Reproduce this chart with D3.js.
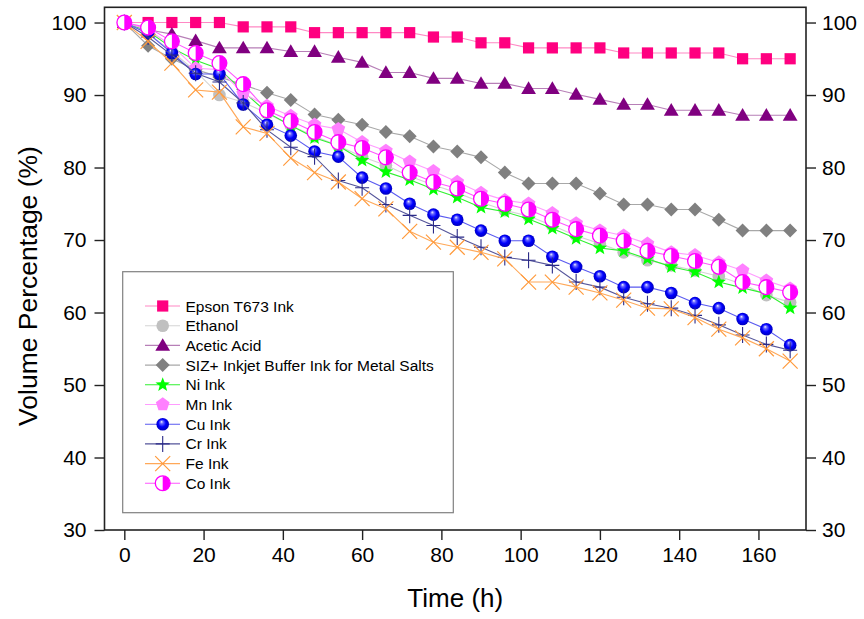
<!DOCTYPE html>
<html>
<head>
<meta charset="utf-8">
<script src="https://cdn.jsdelivr.net/npm/d3@7"></script>
<style>
  body { margin: 0; background: #fff; }
  svg { display: block; font-family: Arial, "Liberation Sans", sans-serif; }
</style>
</head>
<body>
<svg id="chart" width="864" height="619"></svg>
<script>
// Sampling times (h)
const hours = [0, 6, 12, 18, 24, 30, 36, 42, 48, 54, 60, 66, 72, 78, 84, 90, 96,
               102, 108, 114, 120, 126, 132, 138, 144, 150, 156, 162, 168];

// Volume remaining (%) for each liquid
const epson   = [100, 100, 100, 100, 100, 99.4, 99.4, 99.4, 98.6, 98.6, 98.6, 98.6, 98.6, 98.0, 98.0,
                 97.2, 97.2, 96.5, 96.5, 96.5, 96.5, 95.8, 95.8, 95.8, 95.8, 95.8, 95.0, 95.0, 95.0];
const ethanol = [100, 98.5, 96.0, 93.3, 90.0, 89.0, 87.5, 85.8, 84.3, 83.0, 81.5, 80.3, 78.8, 77.6, 76.5,
                 75.2, 74.1, 73.3, 72.0, 70.6, 69.5, 68.3, 67.2, 66.5, 65.8, 65.0, 63.9, 62.4, 61.4];
const acetic  = [100, 99.0, 98.4, 97.5, 96.5, 96.5, 96.5, 96.0, 96.0, 95.2, 94.5, 93.1, 93.1, 92.3, 92.3,
                 91.6, 91.6, 90.9, 90.9, 90.1, 89.4, 88.7, 88.7, 87.9, 87.9, 87.9, 87.2, 87.2, 87.2];
const sizBuffer = [100, 96.8, 95.0, 93.5, 92.5, 91.4, 90.3, 89.3, 87.3, 86.6, 85.9, 84.9, 84.3, 82.9, 82.2,
                 81.4, 79.3, 77.8, 77.8, 77.8, 76.4, 74.9, 74.9, 74.2, 74.2, 72.8, 71.3, 71.3, 71.3];
const niInk   = [100, 98.8, 96.5, 94.8, 93.6, 90.5, 87.6, 85.8, 84.1, 83.0, 81.0, 79.4, 78.3, 77.0, 75.9,
                 74.5, 73.9, 72.9, 71.6, 70.2, 68.9, 68.5, 67.4, 66.3, 65.6, 64.2, 63.4, 62.6, 60.6];
const mnInk   = [100, 99.0, 96.8, 93.7, 93.5, 90.2, 88.5, 87.1, 85.9, 85.3, 83.5, 82.3, 80.8, 79.5, 78.0,
                 76.5, 75.5, 75.0, 73.7, 72.3, 71.3, 70.6, 69.5, 68.3, 67.9, 66.9, 65.8, 64.4, 63.3];
const cuInk   = [100, 98.5, 95.8, 92.9, 92.9, 88.7, 85.9, 84.4, 82.2, 81.5, 78.6, 77.1, 75.0, 73.5, 72.8,
                 71.3, 69.9, 69.9, 67.7, 66.3, 65.0, 63.5, 63.5, 62.7, 61.3, 60.6, 59.1, 57.7, 55.5];
const crInk   = [100, 98.0, 95.5, 93.0, 91.8, 88.9, 85.2, 82.8, 81.5, 78.2, 77.2, 74.9, 73.4, 72.0, 70.4,
                 69.0, 67.6, 67.2, 66.5, 64.2, 63.5, 62.1, 61.2, 60.6, 59.6, 58.3, 56.9, 55.6, 54.8];
const feInk   = [100, 97.4, 94.4, 90.7, 90.4, 85.6, 84.7, 81.3, 79.3, 78.0, 75.7, 74.3, 71.2, 69.7, 69.0,
                 68.3, 67.4, 64.2, 64.2, 63.5, 62.7, 61.7, 60.6, 60.5, 59.3, 57.7, 56.5, 55.0, 53.3];
const coInk   = [100, 99.3, 97.4, 95.8, 94.4, 91.5, 87.9, 86.4, 84.9, 83.5, 82.7, 81.4, 79.3, 78.0, 77.1,
                 75.7, 75.0, 74.2, 72.8, 71.5, 70.6, 69.9, 68.5, 67.8, 67.1, 66.3, 64.2, 63.5, 62.8];

const seriesNames = ["Epson T673 Ink", "Ethanol", "Acetic Acid", "SIZ+ Inkjet Buffer Ink for Metal Salts",
                     "Ni Ink", "Mn Ink", "Cu Ink", "Cr Ink", "Fe Ink", "Co Ink"];
const seriesValues = [epson, ethanol, acetic, sizBuffer, niInk, mnInk, cuInk, crInk, feInk, coInk];

const xTicks = [0, 20, 40, 60, 80, 100, 120, 140, 160];
const yTicks = [30, 40, 50, 60, 70, 80, 90, 100];

// Plot styling per series: marker shape, marker colour, connecting-line colour
const styles = [
  { shape: "square",   fill: "#FF0080", line: "#FF88C4" },
  { shape: "circle",   fill: "#C0C0C0", line: "#D4D4D4" },
  { shape: "triangle", fill: "#800080", line: "#B77FB7" },
  { shape: "diamond",  fill: "#808080", line: "#A8A8A8" },
  { shape: "star",     fill: "#00FF00", line: "#30F030" },
  { shape: "pentagon", fill: "#FF80FF", line: "#FF9CFF" },
  { shape: "sphere",   fill: "#0000FF", line: "#5A5AF0" },
  { shape: "plus",     fill: "#2A2A88", line: "#55559A" },
  { shape: "times",    fill: "#FF9A3C", line: "#FFA858" },
  { shape: "half",     fill: "#FF00FF", line: "#FF55FF" }
];

const plot = { left: 104.5, right: 806, top: 7.3, bottom: 530 };

const svg = d3.select("#chart");
const defs = svg.append("defs");
const grad = defs.append("radialGradient").attr("id", "cuShade")
  .attr("cx", "50%").attr("cy", "50%").attr("r", "55%").attr("fx", "40%").attr("fy", "30%");
grad.append("stop").attr("offset", "0%").attr("stop-color", "#F4F4FF");
grad.append("stop").attr("offset", "22%").attr("stop-color", "#6A6AFF");
grad.append("stop").attr("offset", "55%").attr("stop-color", "#0000FF");
grad.append("stop").attr("offset", "100%").attr("stop-color", "#0000B0");

const x = d3.scaleLinear().domain([-5, 172]).range([plot.left, plot.right]);
const y = d3.scaleLinear().domain([30, 102.1]).range([plot.bottom, plot.top]);

// Marker drawing helpers
function starPath(r) {
  const pts = [];
  for (let i = 0; i < 10; i++) {
    const a = -Math.PI / 2 + i * Math.PI / 5;
    const rr = i % 2 === 0 ? r : r * 0.42;
    pts.push([rr * Math.cos(a), rr * Math.sin(a)]);
  }
  return "M" + pts.map(p => p.join(",")).join("L") + "Z";
}
function polyPath(n, r) {
  const pts = [];
  for (let i = 0; i < n; i++) {
    const a = -Math.PI / 2 + i * 2 * Math.PI / n;
    pts.push([r * Math.cos(a), r * Math.sin(a)]);
  }
  return "M" + pts.map(p => p.join(",")).join("L") + "Z";
}

function drawMarker(g, st) {
  switch (st.shape) {
    case "square":
      g.append("rect").attr("x", -5.6).attr("y", -5.6).attr("width", 11.2).attr("height", 11.2)
        .attr("fill", st.fill);
      break;
    case "circle":
      g.append("circle").attr("r", 6.3).attr("fill", st.fill);
      break;
    case "triangle":
      g.append("path").attr("d", "M0,-7.2L7.4,5.4L-7.4,5.4Z").attr("fill", st.fill);
      break;
    case "diamond":
      g.append("path").attr("d", "M0,-7L7,0L0,7L-7,0Z").attr("fill", st.fill);
      break;
    case "star":
      g.append("path").attr("d", starPath(7.6)).attr("fill", st.fill);
      break;
    case "pentagon":
      g.append("path").attr("d", polyPath(5, 7.2)).attr("fill", st.fill);
      break;
    case "sphere":
      g.append("circle").attr("r", 6.3).attr("fill", "url(#cuShade)");
      break;
    case "plus":
      g.append("path").attr("d", "M-7,0H7M0,-8V8").attr("stroke", st.fill)
        .attr("stroke-width", 1.1).attr("fill", "none");
      break;
    case "times":
      g.append("path").attr("d", "M-7.5,-7.5L7.5,7.5M-7.5,7.5L7.5,-7.5").attr("stroke", st.fill)
        .attr("stroke-width", 1.2).attr("fill", "none");
      break;
    case "half":
      g.append("circle").attr("r", 7.4).attr("fill", "#fff");
      g.append("path").attr("d", "M0,-7.4A7.4,7.4 0 0 1 0,7.4Z").attr("fill", st.fill);
      g.append("circle").attr("r", 7.4).attr("fill", "none").attr("stroke", st.fill).attr("stroke-width", 1.3);
      break;
  }
}

// Frame and axes
const axisColor = "#222";
svg.append("rect").attr("x", plot.left).attr("y", plot.top)
  .attr("width", plot.right - plot.left).attr("height", plot.bottom - plot.top)
  .attr("fill", "none").attr("stroke", axisColor).attr("stroke-width", 1.6);

const tickFont = 21;
const xAxis = svg.append("g").attr("transform", `translate(0,${plot.bottom})`)
  .call(d3.axisBottom(x).tickValues(xTicks).tickSize(10).tickPadding(7).tickFormat(d3.format("d")));
const yAxisL = svg.append("g").attr("transform", `translate(${plot.left},0)`)
  .call(d3.axisLeft(y).tickValues(yTicks).tickSize(10).tickPadding(8).tickFormat(d3.format("d")));
const yAxisR = svg.append("g").attr("transform", `translate(${plot.right},0)`)
  .call(d3.axisRight(y).tickValues(yTicks).tickSize(10).tickPadding(6).tickFormat(d3.format("d")));
[xAxis, yAxisL, yAxisR].forEach(a => {
  a.select(".domain").remove();
  a.selectAll("line").attr("stroke", axisColor).attr("stroke-width", 1.4);
  a.selectAll("text").attr("fill", "#000").style("font-size", tickFont + "px")
    .style("font-family", "Arial, 'Liberation Sans', sans-serif");
});

// Axis titles
svg.append("text").attr("x", (plot.left + plot.right) / 2).attr("y", 607)
  .attr("text-anchor", "middle").style("font-size", "26px").text("Time (h)");
svg.append("text").attr("transform", "translate(37,286) rotate(-90)")
  .attr("text-anchor", "middle").style("font-size", "26.5px").text("Volume Percentage (%)");

// Series: line then markers, drawn in legend order
const lineGen = d3.line().x(d => x(d[0])).y(d => y(d[1]));
seriesValues.forEach((vals, i) => {
  const st = styles[i];
  const pts = hours.map((h, k) => [h, vals[k]]);
  const g = svg.append("g");
  g.append("path").datum(pts).attr("d", lineGen).attr("fill", "none")
    .attr("stroke", st.line).attr("stroke-width", 1.1);
  g.selectAll("g.m").data(pts).join("g").attr("class", "m")
    .attr("transform", d => `translate(${x(d[0])},${y(d[1])})`)
    .each(function () { drawMarker(d3.select(this), st); });
});

// Legend
const leg = svg.append("g");
leg.append("rect").attr("x", 122.7).attr("y", 271.7).attr("width", 330.6).attr("height", 241)
  .attr("fill", "#fff").attr("stroke", "#808080").attr("stroke-width", 1.2);
seriesNames.forEach((name, i) => {
  const st = styles[i];
  const ly = 306 + i * 19.7;
  leg.append("line").attr("x1", 145).attr("x2", 180).attr("y1", ly).attr("y2", ly)
    .attr("stroke", st.line).attr("stroke-width", 1.1);
  const mg = leg.append("g").attr("transform", `translate(162.7,${ly})`);
  drawMarker(mg, st);
  leg.append("text").attr("x", 185.5).attr("y", ly).attr("dy", "0.36em")
    .style("font-size", "15.5px").text(name);
});
</script>
</body>
</html>
